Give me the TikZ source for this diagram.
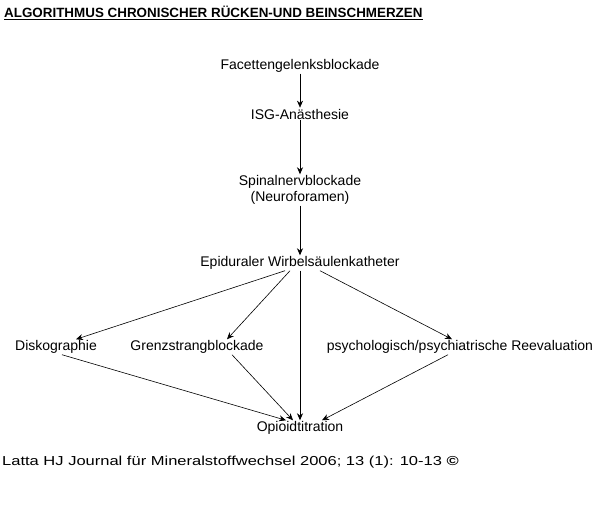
\documentclass[tikz,border=0pt]{standalone}
\usepackage{fontspec}
\setmainfont{Liberation Sans}
\usetikzlibrary{arrows.meta}
\begin{document}
\begin{tikzpicture}
  [x=1pt,y=-1pt,every node/.style={inner sep=1pt,font=\fontsize{14}{16}\selectfont,align=center},
   pfeil/.style={-{Stealth[length=7pt,width=6pt]},line width=0.6pt}]
  \useasboundingbox (0,0) rectangle (600,504);
  \node[anchor=west,font=\bfseries\fontsize{13.4}{15}\selectfont] (titel) at (3,13) {\underline{ALGORITHMUS CHRONISCHER RÜCKEN-UND BEINSCHMERZEN}};
  \node (facette) at (300,66)  {Facettengelenksblockade};
  \node (isg)     at (300,114) {ISG-Anästhesie};
  \node (spinal)  at (300,190) {Spinalnervblockade\\(Neuroforamen)};
  \node (epi)     at (300,263) {Epiduraler Wirbelsäulenkatheter};
  \node (disk)    at (56,347)  {Diskographie};
  \node (grenz)   at (197,347) {Grenzstrangblockade};
  \node (psych)   at (460,347) {psychologisch/psychiatrische Reevaluation};
  \node (opioid)  at (300,428) {Opioidtitration};
  \node[anchor=west,font=\fontsize{13}{14}\selectfont] (quelle) at (1,462) {\scalebox{1.27}[1]{Latta HJ Journal für Mineralstoffwechsel 2006; 13 (1): 10-13 \textbf{©}}};

  \draw[pfeil] (facette) -- (isg);
  \draw[pfeil] (isg) -- (spinal);
  \draw[pfeil] (spinal) -- (epi);
  \draw[pfeil] ([xshift=-15pt]epi.south) -- ([xshift=20pt]disk.north);
  \draw[pfeil] ([xshift=-10pt]epi.south) -- ([xshift=30pt]grenz.north);
  \draw[pfeil] (epi.south) -- (opioid.north);
  \draw[pfeil] ([xshift=20pt]epi.south) -- ([xshift=-8pt]psych.north);
  \draw[pfeil] ([xshift=6pt]disk.south) -- ([xshift=-14pt]opioid.north);
  \draw[pfeil] ([xshift=35pt]grenz.south) -- ([xshift=-7pt]opioid.north);
  \draw[pfeil] ([xshift=-12pt]psych.south) -- ([xshift=22pt]opioid.north);
\end{tikzpicture}
\end{document}
